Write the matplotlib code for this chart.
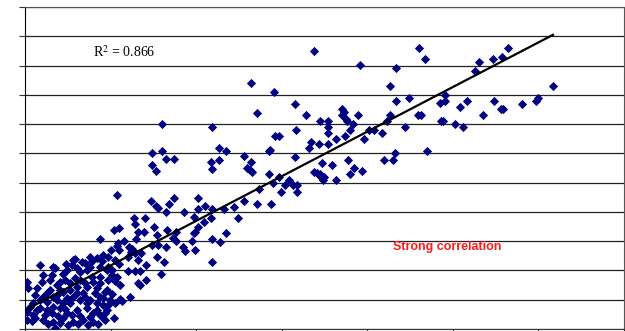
import matplotlib
matplotlib.use("Agg")
import matplotlib.pyplot as plt
import numpy as np

# scatter readings (x, y) - upper / middle part of the cloud
x_upper = [33.8, 26.4, 29.1, 27.1, 31.5, 32.8, 31.7, 29.2, 29.7, 33.4, 33.2, 34.3, 34.5, 28.5, 31.5,
           25.6, 26.4, 26.0, 26.3, 26.5, 22.7, 23.5, 21.8, 22.7, 21.7, 21.8, 16.0, 16.0, 14.8, 16.5,
           17.4, 14.8, 15.3, 46.1, 46.8, 39.2, 43.3, 42.7, 43.3, 44.9, 35.4, 35.4, 35.4, 37.0, 37.3,
           37.1, 37.5, 37.6, 38.3, 38.9, 38.0, 37.4, 36.3, 35.4, 40.2, 40.8, 39.6, 41.7, 42.7, 42.3,
           44.4, 45.9, 46.3, 48.5, 49.1, 49.1, 48.6, 48.9, 50.2, 51.2, 50.8, 51.6, 52.6, 53.1, 54.7,
           55.7, 56.4, 53.5, 54.8, 55.6, 55.9, 58.1, 59.7, 59.9, 61.7, 47.0, 42.0, 43.0, 43.2, 37.8,
           35.9, 34.7, 33.8, 34.1, 34.5, 34.6, 34.9, 34.8, 36.3, 38.5, 39.4, 38.0, 30.8, 30.4, 31.3,
           31.8, 31.8, 28.6, 28.5, 29.0, 29.7, 29.9, 27.4, 27.1, 28.7, 25.6, 24.4, 23.2, 24.9, 20.2,
           20.2, 21.0, 21.8, 21.7, 20.9, 20.2, 19.9, 23.5, 21.8, 22.8, 19.9, 21.8, 10.7, 14.7, 15.3,
           15.5, 16.5, 16.8, 17.4, 18.6, 19.7, 19.7]
y_upper = [95.0, 84.0, 81.0, 73.8, 76.9, 73.1, 68.0, 65.9, 65.9, 63.9, 61.8, 63.2, 71.1, 60.8, 58.8,
           59.1, 57.0, 55.0, 54.3, 53.6, 61.8, 60.8, 69.0, 57.7, 57.0, 54.7, 70.0, 60.8, 60.1, 58.1,
           58.1, 56.0, 54.0, 96.0, 92.2, 90.2, 89.2, 83.0, 77.9, 78.9, 71.1, 69.0, 67.0, 75.2, 74.1,
           73.1, 71.7, 71.1, 70.0, 73.1, 68.0, 65.9, 64.9, 63.2, 68.0, 68.0, 64.9, 67.0, 73.1, 71.1,
           69.0, 73.1, 73.1, 77.2, 77.9, 79.9, 71.1, 71.1, 70.0, 69.0, 75.8, 77.9, 88.1, 91.2, 92.2,
           92.9, 96.0, 73.1, 77.9, 75.2, 75.2, 76.9, 77.9, 78.9, 83.0, 60.8, 57.7, 57.7, 60.1, 57.7,
           56.0, 56.7, 53.6, 53.3, 52.9, 51.9, 51.9, 50.9, 50.9, 55.0, 54.0, 52.9, 50.9, 49.2, 49.2,
           49.2, 46.8, 61.1, 52.9, 49.9, 51.9, 46.8, 47.8, 42.7, 42.7, 43.7, 41.7, 41.0, 37.9, 44.7,
           41.0, 42.0, 41.0, 37.9, 36.6, 34.8, 33.1, 32.8, 30.7, 29.7, 27.0, 22.9, 45.8, 43.7, 42.0,
           41.3, 40.0, 42.7, 44.7, 40.0, 38.3, 32.8]

# scatter readings - band between x = 9 and x = 20
x_mid = [10.4, 11.0, 12.7, 12.8, 14.0, 15.1, 13.2, 13.9, 13.0, 15.4, 16.6, 17.6, 17.3, 17.6, 11.6,
         10.9, 10.7, 10.0, 11.0, 12.1, 12.5, 12.4, 13.5, 14.8, 15.5, 16.5, 18.5, 18.7, 19.5, 8.8,
         15.4, 16.2, 14.1, 15.9, 13.4, 12.8, 12.0, 13.2, 13.4, 14.1, 11.1, 10.2, 11.1, 11.3, 12.3,
         10.5, 9.3, 10.4, 9.3, 10.5, 10.7, 9.7, 10.5, 11.0, 9.7, 10.2, 12.0, 12.8, 13.2]
y_mid = [33.8, 34.5, 37.9, 35.9, 37.9, 34.8, 33.1, 33.1, 30.7, 32.1, 33.8, 33.1, 31.1, 30.1, 30.1,
         29.4, 28.4, 27.0, 27.0, 28.0, 27.3, 26.3, 26.0, 28.7, 28.7, 28.0, 28.0, 26.6, 30.1, 30.7,
         24.6, 22.9, 21.9, 18.8, 19.8, 19.8, 19.8, 15.7, 15.0, 16.7, 15.0, 12.0, 10.2, 9.6, 10.9,
         8.9, 5.5, 3.8, 12.6, 16.4, 17.8, 24.6, 23.6, 22.2, 21.2, 20.2, 24.6, 26.0, 23.6]

# scatter readings - dense cluster near the origin
x_low = [1.8, 3.3, 4.8, 5.6, 6.7, 7.0, 7.6, 8.4, 9.1, 4.9, 6.1, 7.2, 2.1, 0.2, 3.2,
         1.4, 4.1, 5.3, 6.4, 7.9, 8.8, 2.6, 3.3, 4.4, 5.6, 6.8, 7.6, 8.8, 9.6, 0.2,
         0.9, 1.8, 2.6, 3.3, 4.1, 4.9, 6.1, 7.2, 7.9, 8.8, 9.6, 2.1, 3.3, 4.4, 5.6,
         6.8, 7.9, 9.1, 3.5, 0.2, 0.9, 1.8, 2.6, 3.7, 4.4, 5.3, 6.4, 7.2, 8.4, 9.1,
         4.1, 5.3, 6.1, 7.2, 8.4, 0.4, 3.5, 0.8, 5.8, 5.5, 7.8, 9.0, 7.6, 6.4, 4.4,
         9.6, 8.8, 10.2, 1.2, 2.1, 2.9, 3.7, 4.9, 6.1, 7.0, 8.2, 9.1, 0.6, 1.4, 2.3,
         3.2, 3.9, 4.7, 5.5, 6.4, 7.6, 8.4, 9.3, 1.2, 2.7, 4.1, 5.0, 6.2, 7.4, 8.5,
         2.0, 2.9, 3.7, 4.7, 5.8, 7.0, 7.8, 8.8, 9.7, 9.9, 9.7]
y_low = [21.9, 21.2, 22.2, 23.6, 22.9, 22.5, 24.6, 24.3, 25.3, 20.2, 20.8, 20.2, 18.4, 16.1, 18.4,
         14.0, 16.1, 15.7, 16.7, 16.1, 17.8, 12.3, 10.9, 12.6, 10.9, 12.3, 9.9, 10.9, 13.3, 5.8,
         4.8, 7.2, 6.5, 7.5, 7.2, 5.5, 6.5, 7.2, 5.5, 4.8, 6.5, 3.1, 2.4, 3.8, 2.4,
         3.1, 2.4, 3.8, 0.3, 3.1, 8.9, 9.9, 9.2, 9.9, 8.9, 8.9, 9.9, 8.9, 8.9, 8.2,
         13.3, 13.3, 14.3, 14.3, 14.0, 14.0, 20.8, 2.7, 23.9, 21.9, 23.2, 23.2, 21.2, 19.5, 18.8,
         20.2, 21.2, 18.4, 11.6, 10.9, 13.3, 11.6, 10.6, 12.3, 10.9, 12.3, 10.6, 7.5, 6.5, 4.8,
         5.5, 4.4, 6.8, 4.8, 4.4, 4.1, 6.5, 3.1, 3.8, 1.7, 2.0, 1.4, 1.7, 1.4, 1.7,
         16.1, 16.7, 15.0, 16.7, 17.4, 15.7, 17.8, 15.7, 16.7, 9.9, 8.2]

r2_label = r"R$^{2}$ = 0.866"
note = "Strong correlation"

plt.rcParams['mathtext.fontset'] = 'stix'

x = np.array(x_upper + x_mid + x_low)
y = np.array(y_upper + y_mid + y_low)

# linear trendline over the data range
slope, intercept = np.polyfit(x, y, 1)
xs = np.array([x.min(), x.max()])

fig = plt.figure(figsize=(6.25, 3.31), dpi=100)
ax = fig.add_axes([25 / 625, 2 / 331, 599 / 625, 322 / 331])

ax.scatter(x, y, marker='D', s=22, color='#000080', linewidths=0, zorder=3)
ax.plot(xs, slope * xs + intercept, color='black', lw=1.6, zorder=4)

ax.set_xlim(0, 70)
ax.set_ylim(0, 110)
ax.set_xticks(np.arange(0, 71, 10))
ax.set_yticks(np.arange(0, 111, 10))
ax.set_xticklabels([])
ax.set_yticklabels([])
ax.tick_params(direction='out', length=4, width=0.8, color='#333333')
ax.grid(axis='y', color='#222222', lw=0.9)
ax.set_axisbelow(True)

for side in ['top', 'right']:
    ax.spines[side].set_color('#555555')
ax.spines['left'].set_color('black')
ax.spines['bottom'].set_color('#333333')

ax.text(7.9, 94.6, r2_label, fontsize=10, family='Liberation Serif', va='center')
ax.text(43.0, 28.0, note, fontsize=9, family='Liberation Sans', fontweight='bold',
        color='#ff1a1a', va='center')

fig.savefig('out.png', dpi=100)
